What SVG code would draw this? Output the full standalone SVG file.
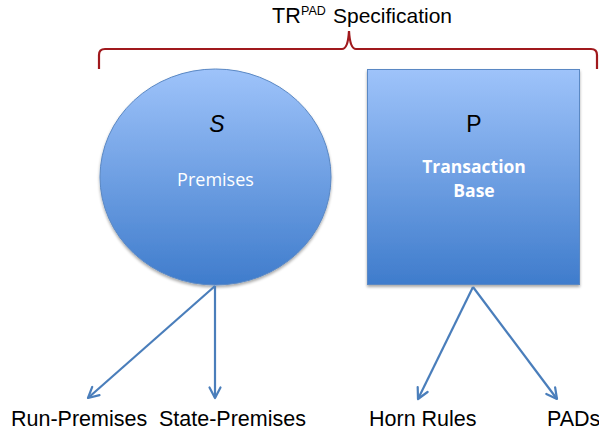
<svg xmlns="http://www.w3.org/2000/svg" width="599" height="434" viewBox="0 0 599 434">
  <defs>
    <linearGradient id="blueFill" x1="0" y1="0" x2="0" y2="1">
      <stop offset="0" stop-color="#9ec3fa"/>
      <stop offset="1" stop-color="#3f7ccc"/>
    </linearGradient>
    <filter id="shadow" x="-10%" y="-10%" width="120%" height="125%">
      <feGaussianBlur in="SourceAlpha" stdDeviation="1.5"/>
      <feOffset dy="2"/>
      <feComponentTransfer><feFuncA type="linear" slope="0.35"/></feComponentTransfer>
      <feMerge><feMergeNode/><feMergeNode in="SourceGraphic"/></feMerge>
    </filter>
    <marker id="arrow" viewBox="0 0 14 14" refX="12" refY="7" markerWidth="14" markerHeight="14" markerUnits="userSpaceOnUse" orient="auto">
      <path d="M1.5,1.5 L12,7 L1.5,12.5" fill="none" stroke="#4a7ebb" stroke-width="2.2" stroke-linecap="round" stroke-linejoin="round"/>
    </marker>
  </defs>
  <style>
    .shape { fill: url(#blueFill); stroke: #5a88c4; stroke-width: 1; }
    .sym { font-family: "Liberation Sans", Arial, sans-serif; font-size: 23px; fill: #000; text-anchor: middle; }
    .inner { font-family: "Open Sans", "Liberation Sans", sans-serif; fill: #fff; text-anchor: middle; }
    .leaf { font-family: "Liberation Sans", Arial, sans-serif; font-size: 21.5px; fill: #000; }
    .edge { fill: none; stroke: #4a7ebb; stroke-width: 2.2; marker-end: url(#arrow); }
  </style>

  <!-- title and brace -->
  <g id="title" font-family="Liberation Sans, Arial, sans-serif" fill="#000">
    <text x="272" y="23" font-size="21.5">TR</text>
    <text x="301" y="15" font-size="12.5">PAD</text>
    <text x="333" y="23" font-size="21" textLength="119" lengthAdjust="spacingAndGlyphs">Specification</text>
  </g>
  <g id="brace">
    <path d="M99,69 L99,55 Q99,49 105,49 L342,49 Q348,49 349,31 Q350,49 356,49 L591,49 Q597,49 597,55 L597,69" fill="none" stroke="#a0191d" stroke-width="2.2"/>
  </g>

  <!-- S: premises -->
  <g id="premises">
    <ellipse class="shape" cx="215.5" cy="177" rx="115.5" ry="108" filter="url(#shadow)"/>
    <text class="sym" x="217" y="132" font-style="italic">S</text>
    <text class="inner" x="215.5" y="186" font-size="18">Premises</text>
  </g>

  <!-- P: transaction base -->
  <g id="transaction-base">
    <rect class="shape" x="367.5" y="69.5" width="212" height="215" filter="url(#shadow)"/>
    <text class="sym" x="474" y="132">P</text>
    <text class="inner" x="474" y="173" font-size="17.5" font-weight="bold">Transaction</text>
    <text class="inner" x="474" y="197" font-size="17.5" font-weight="bold">Base</text>
  </g>

  <!-- connectors -->
  <g id="connectors">
    <line class="edge" x1="215" y1="286" x2="88" y2="398"/>
    <line class="edge" x1="215" y1="286" x2="215" y2="398"/>
    <line class="edge" x1="473" y1="287" x2="418" y2="399"/>
    <line class="edge" x1="473" y1="287" x2="557" y2="399"/>
  </g>

  <!-- leaves -->
  <g id="run-premises"><text class="leaf" x="11" y="426">Run-Premises</text></g>
  <g id="state-premises"><text class="leaf" x="159" y="426">State-Premises</text></g>
  <g id="horn-rules"><text class="leaf" x="369" y="426">Horn Rules</text></g>
  <g id="pads"><text class="leaf" x="547" y="426">PADs</text></g>
</svg>
